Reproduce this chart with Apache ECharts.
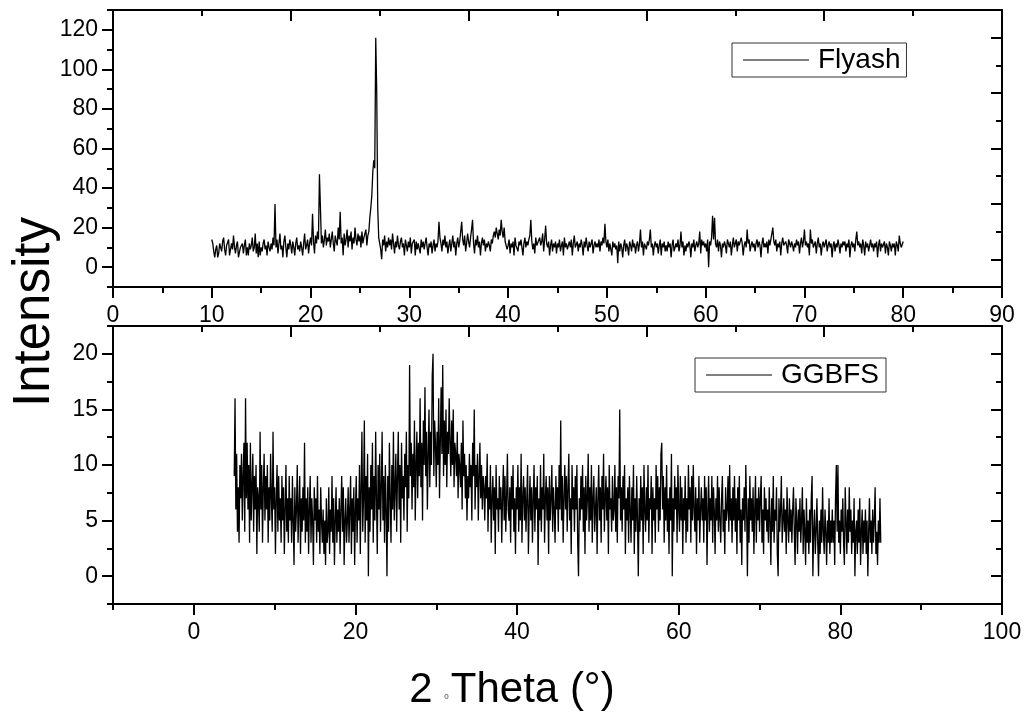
<!DOCTYPE html>
<html>
<head>
<meta charset="utf-8">
<script src="https://cdn.jsdelivr.net/npm/echarts@6/dist/echarts.min.js"></script>
<style>
html,body{margin:0;padding:0;background:#fff;}
#chart{width:1029px;height:717px;}
</style>
</head>
<body>
<div id="chart"></div>
<script>
// ---- Flyash XRD scan: 2θ from 10.0° to 80.0°, 0.1° steps ----
const flyashStart = 10.0;
const flyashStep = 0.1;
const flyash = [
14,12,8,5,9,11,5,7,12,10,
8,13,15,9,6,11,10,14,6,7,
12,9,16,10,7,11,13,5,6,10,
9,12,7,11,14,6,10,6,12,9,
11,15,8,10,17,7,12,5,13,6,
10,8,12,14,9,11,6,13,10,8,
12,9,15,11,32,10,14,7,12,17,
9,11,5,13,16,10,5,12,9,14,
11,7,13,10,6,12,15,9,11,8,
13,10,6,12,17,9,11,14,7,12,
15,11,27,13,7,16,12,18,14,47,
30,12,16,10,14,19,11,15,13,17,
10,14,18,12,8,16,13,11,20,14,
28,12,15,6,17,11,14,19,10,16,
13,18,9,15,12,20,14,11,17,13,
16,10,18,12,15,14,19,11,16,18,
25,30,36,48,54,50,116,88,30,15,
12,9,4,14,11,16,8,13,10,15,
11,14,9,17,12,7,13,10,16,11,
9,13,15,10,12,6,14,11,8,13,
10,15,7,12,11,14,6,13,9,12,
11,7,14,10,13,9,12,15,10,6,
12,10,13,7,11,14,8,12,10,13,
23,15,12,8,14,11,16,10,13,7,
11,14,8,12,16,10,13,6,12,15,
10,13,18,23,14,11,16,8,12,17,
13,10,15,19,24,12,7,14,11,16,
10,13,6,12,15,11,14,8,12,10,
13,11,8,14,12,16,18,15,20,17,
14,19,16,24,18,15,20,13,12,9,
11,14,7,12,10,13,6,15,11,12,
8,13,11,14,10,6,12,15,10,13,
11,14,16,24,13,9,12,7,15,11,
10,12,15,11,13,17,8,14,21,12,
10,13,6,11,14,8,12,10,13,7,
12,10,14,8,11,13,6,15,10,12,
9,11,13,10,14,6,12,16,10,11,
13,8,12,10,14,11,6,13,10,15,
11,8,13,10,12,14,7,11,13,10,
12,10,14,8,13,11,15,12,22,13,
10,14,8,12,11,6,13,10,12,9,
11,2,13,8,12,10,5,11,14,8,
12,10,6,13,11,8,14,10,12,7,
11,13,8,12,19,10,13,6,12,11,
9,13,11,14,19,10,12,6,11,13,
10,12,7,11,14,6,12,10,13,8,
11,8,13,10,12,5,11,14,8,10,
12,10,14,8,11,18,10,13,6,11,
8,12,10,13,11,5,12,10,14,8,
11,13,10,12,18,7,14,11,13,10,
12,8,14,0,13,11,15,26,14,25,
12,10,14,8,13,11,5,12,10,13,
11,7,14,12,10,13,6,11,15,10,
12,14,8,13,11,10,15,12,6,11,
13,10,19,12,14,8,11,13,10,12,
8,12,14,10,13,11,5,12,15,10,
12,10,13,7,14,11,12,10,20,13,
11,14,8,12,10,13,6,12,15,11,
10,13,11,7,14,12,10,13,11,8,
12,10,14,11,13,7,12,15,10,13,
19,11,13,10,12,6,19,12,14,10,
11,13,7,12,15,10,12,6,11,13,
10,12,14,8,11,13,10,12,5,11,
13,8,12,10,14,11,7,12,10,13,
11,13,8,12,10,14,5,11,13,10,
12,8,14,18,11,13,10,12,7,14,
11,6,13,10,12,8,11,14,10,12,
8,12,10,13,5,11,14,8,12,10,
11,13,7,12,10,6,13,11,8,12,
10,12,6,13,11,8,16,12,10,11,
13
];

// ---- GGBFS XRD scan: 2θ from 5.0° to 85.0°, 0.1° steps ----
const ggbfsStart = 5.0;
const ggbfsStep = 0.1;
const ggbfs = [
9,16,6,11,4,8,3,10,7,11,
5,9,12,4,16,7,12,6,10,3,
12,5,8,11,4,9,6,10,2,8,
7,4,13,6,10,3,8,11,5,9,
6,10,3,8,5,11,7,4,13,6,
8,2,7,10,4,9,5,7,3,9,
5,8,2,6,10,4,7,3,9,5,
7,3,9,5,1,8,4,6,10,3,
6,9,2,7,4,8,5,12,3,7,
4,8,2,6,9,3,7,5,1,8,
5,7,3,9,4,6,2,8,5,3,
6,2,5,1,7,3,4,8,2,6,
4,9,3,7,1,5,8,3,6,4,
7,2,6,9,4,8,1,5,7,3,
5,8,3,6,9,2,7,4,8,1,
6,9,3,7,5,10,2,8,13,4,
7,14,3,9,5,11,0,8,4,10,
6,12,3,9,5,13,7,2,10,6,
11,4,8,13,5,9,3,10,6,0,
9,4,12,7,3,10,6,13,5,8,
11,4,9,13,6,10,3,12,7,9,
5,11,8,13,4,10,7,19,9,12,
6,11,8,14,5,10,13,7,12,9,
16,8,12,5,14,10,17,9,13,6,
11,15,8,13,10,18,20,9,14,12,
8,13,10,16,7,12,17,11,19,9,
14,10,15,8,13,11,16,12,9,14,
10,15,8,12,11,9,13,7,11,10,
8,12,6,14,9,11,7,10,5,9,
7,11,8,10,5,12,9,15,6,10,
8,11,5,9,12,7,10,6,9,8,
5,9,7,11,4,8,6,10,3,7,
9,5,8,2,10,6,7,4,9,6,
8,3,7,10,5,9,4,7,11,6,
5,8,3,9,6,10,4,7,2,8,
6,10,4,8,5,11,3,7,9,5,
8,4,7,10,2,6,9,5,8,3,
7,10,4,8,6,9,1,7,5,10,
4,8,6,11,3,7,9,5,8,2,
9,5,7,10,4,8,6,3,9,6,
8,4,10,6,14,5,9,3,7,10,
6,9,4,8,11,5,7,2,10,6,
8,4,9,6,10,3,0,7,5,9,
6,10,4,8,2,9,5,7,11,4,
8,5,10,3,7,9,4,6,8,2,
7,10,5,8,3,9,6,11,4,7,
9,5,8,2,10,6,7,4,9,5,
6,10,4,8,3,9,7,15,5,8,
4,9,6,10,2,7,5,8,3,9,
6,3,8,5,10,2,7,4,9,5,
0,7,4,9,5,8,2,10,6,4,
8,5,10,3,7,6,9,2,8,5,
7,3,10,6,9,4,8,5,11,12,
6,9,3,8,5,10,4,7,2,8,
5,11,0,7,4,9,6,8,3,10,
6,4,9,5,8,2,7,5,9,3,
7,4,10,6,8,3,9,5,10,6,
4,8,2,7,5,9,3,6,8,5,
7,3,9,5,8,1,6,9,4,7,
5,9,3,8,6,2,7,5,9,4,
8,5,3,7,9,4,6,2,8,5,
6,9,4,10,5,7,3,8,5,9,
4,7,2,8,5,9,3,6,1,7,
5,8,4,10,6,0,7,3,9,5,
7,4,8,2,6,9,3,7,5,8,
4,7,9,3,6,2,8,5,7,4,
6,3,8,5,1,7,4,9,3,6,
5,8,2,0,7,4,6,9,3,5,
7,4,6,2,8,5,3,7,4,6,
3,6,8,4,1,7,5,2,6,4,
7,3,5,8,2,6,4,1,7,3,
5,2,6,3,7,9,0,4,6,2,
4,7,3,0,5,2,6,3,8,4,
2,6,4,1,5,3,7,2,5,3,
6,3,5,1,7,10,4,10,3,5,
2,6,4,7,3,1,8,5,2,6,
3,8,4,6,2,5,3,7,0,4,
5,2,6,3,7,1,4,6,2,5,
3,6,2,5,0,4,7,3,5,2,
6,3,5,8,2,4,1,5,3,7,
3
];

// ---- axis tick label values ----
const topXMajor = [0,10,20,30,40,50,60,70,80,90];
const topYMajor = [0,20,40,60,80,100,120];
const botXMajor = [0,20,40,60,80,100];
const botYMajor = [0,5,10,15,20];
const mirrorXMajor = [20,40,60,80];
const mirrorYMajor = [0,5,10,15,20];

const seriesNames = ['Flyash','GGBFS'];
const yTitle = 'Intensity';

const FONT = '"Liberation Sans", Arial, sans-serif';

function toXY(start, step, vals){
  return vals.map((v,i)=>[Math.round((start + i*step)*10)/10, v]);
}

const lineCol = '#000';
const axisLineStyle = {show:true, onZero:false, lineStyle:{color:lineCol, width:2}};
const noLine = {show:false, onZero:false};

function shortTick(inside){ return {show:true, inside:!!inside, length:6, lineStyle:{color:lineCol, width:2}}; }
function longTick(vals, inside){ return {show:true, inside:!!inside, length:11, customValues:vals, lineStyle:{color:lineCol, width:2}}; }

const labelStyle = {color:'#000', fontSize:23, fontFamily:FONT};

const grids = [
  {left:113, top:10, width:889, height:277},
  {left:113, top:10, width:889, height:277},
  {left:113, top:326, width:889, height:278},
  {left:113, top:326, width:889, height:278}
];

const xAxes = [
  // top panel main
  {type:'value', gridIndex:0, position:'bottom', min:0, max:90, interval:5,
   axisLine:axisLineStyle, axisTick:shortTick(false), splitLine:{show:false},
   axisLabel:Object.assign({margin:17, formatter:v=> topXMajor.indexOf(v)>=0 ? String(v) : ''}, labelStyle)},
  {type:'value', gridIndex:0, position:'top', min:0, max:100, interval:10,
   axisLine:axisLineStyle, axisTick:shortTick(true), splitLine:{show:false}, axisLabel:{show:false}},
  // top panel overlay (long ticks)
  {type:'value', gridIndex:1, position:'bottom', min:0, max:90,
   axisLine:noLine, axisTick:longTick(topXMajor,false), splitLine:{show:false}, axisLabel:{show:false}},
  {type:'value', gridIndex:1, position:'top', min:0, max:100,
   axisLine:noLine, axisTick:longTick(mirrorXMajor,true), splitLine:{show:false}, axisLabel:{show:false}},
  // bottom panel main
  {type:'value', gridIndex:2, position:'bottom', min:-10, max:100, interval:10,
   axisLine:axisLineStyle, axisTick:shortTick(false), splitLine:{show:false},
   axisLabel:Object.assign({margin:17, formatter:v=> botXMajor.indexOf(v)>=0 ? String(v) : ''}, labelStyle)},
  {type:'value', gridIndex:2, position:'top', min:0, max:100, interval:10,
   axisLine:axisLineStyle, axisTick:shortTick(true), splitLine:{show:false}, axisLabel:{show:false}},
  // bottom panel overlay
  {type:'value', gridIndex:3, position:'bottom', min:-10, max:100,
   axisLine:noLine, axisTick:longTick(botXMajor,false), splitLine:{show:false}, axisLabel:{show:false}},
  {type:'value', gridIndex:3, position:'top', min:0, max:100,
   axisLine:noLine, axisTick:longTick(mirrorXMajor,true), splitLine:{show:false}, axisLabel:{show:false}}
];

const yAxes = [
  {type:'value', gridIndex:0, position:'left', min:-10, max:130, interval:10,
   axisLine:axisLineStyle, axisTick:shortTick(false), splitLine:{show:false},
   axisLabel:Object.assign({margin:15, formatter:v=> topYMajor.indexOf(v)>=0 ? String(v) : ''}, labelStyle)},
  {type:'value', gridIndex:0, position:'right', min:-2.5, max:22.5, interval:2.5,
   axisLine:axisLineStyle, axisTick:shortTick(true), splitLine:{show:false}, axisLabel:{show:false}},
  {type:'value', gridIndex:1, position:'left', min:-10, max:130,
   axisLine:noLine, axisTick:longTick(topYMajor,false), splitLine:{show:false}, axisLabel:{show:false}},
  {type:'value', gridIndex:1, position:'right', min:-2.5, max:22.5,
   axisLine:noLine, axisTick:longTick(mirrorYMajor,true), splitLine:{show:false}, axisLabel:{show:false}},
  {type:'value', gridIndex:2, position:'left', min:-2.5, max:22.5, interval:2.5,
   axisLine:axisLineStyle, axisTick:shortTick(false), splitLine:{show:false},
   axisLabel:Object.assign({margin:15, formatter:v=> botYMajor.indexOf(v)>=0 ? String(v) : ''}, labelStyle)},
  {type:'value', gridIndex:2, position:'right', min:-2.5, max:22.5, interval:2.5,
   axisLine:axisLineStyle, axisTick:shortTick(true), splitLine:{show:false}, axisLabel:{show:false}},
  {type:'value', gridIndex:3, position:'left', min:-2.5, max:22.5,
   axisLine:noLine, axisTick:longTick(botYMajor,false), splitLine:{show:false}, axisLabel:{show:false}},
  {type:'value', gridIndex:3, position:'right', min:-2.5, max:22.5,
   axisLine:noLine, axisTick:longTick(mirrorYMajor,true), splitLine:{show:false}, axisLabel:{show:false}}
];

const legendBase = {
  orient:'horizontal', selectedMode:false, icon:'rect', itemWidth:66, itemHeight:1, itemGap:0,
  borderColor:'#333', borderWidth:1, backgroundColor:'#fff',
  textStyle:{color:'#000', fontSize:28, fontFamily:FONT, padding:[0,0,0,4]}
};

const option = {
  animation:false,
  backgroundColor:'#fff',
  grid:grids,
  xAxis:xAxes,
  yAxis:yAxes,
  legend:[
    Object.assign({}, legendBase, {data:[seriesNames[0]], left:732, top:43, padding:[3,6,3,11]}),
    Object.assign({}, legendBase, {data:[seriesNames[1]], left:695, top:358, padding:[3,7,3,11]})
  ],
  graphic:[
    {type:'text', rotation:Math.PI/2, x:35, y:312,
     style:{text:yTitle, fontSize:51, fontFamily:FONT, fill:'#000', align:'center', verticalAlign:'middle'}},
    {type:'text', x:512, y:690,
     style:{text:'{a|2 }{s|0}{a|Theta (°)}', align:'center', verticalAlign:'middle',
       rich:{a:{fontSize:42, fontFamily:FONT, fill:'#000', color:'#000'},
             s:{fontSize:8, fontFamily:FONT, fill:'#444', color:'#444', verticalAlign:'middle', padding:[14,2,0,0]}}}}
  ],
  series:[
    {name:seriesNames[0], type:'line', xAxisIndex:0, yAxisIndex:0, symbol:'none',
     lineStyle:{color:lineCol, width:1.3}, itemStyle:{color:lineCol},
     data:toXY(flyashStart, flyashStep, flyash)},
    {name:seriesNames[1], type:'line', xAxisIndex:4, yAxisIndex:4, symbol:'none',
     lineStyle:{color:lineCol, width:1.3}, itemStyle:{color:lineCol},
     data:toXY(ggbfsStart, ggbfsStep, ggbfs)}
  ]
};

const chart = echarts.init(document.getElementById('chart'), null, {renderer:'canvas'});
chart.setOption(option);
</script>
</body>
</html>
